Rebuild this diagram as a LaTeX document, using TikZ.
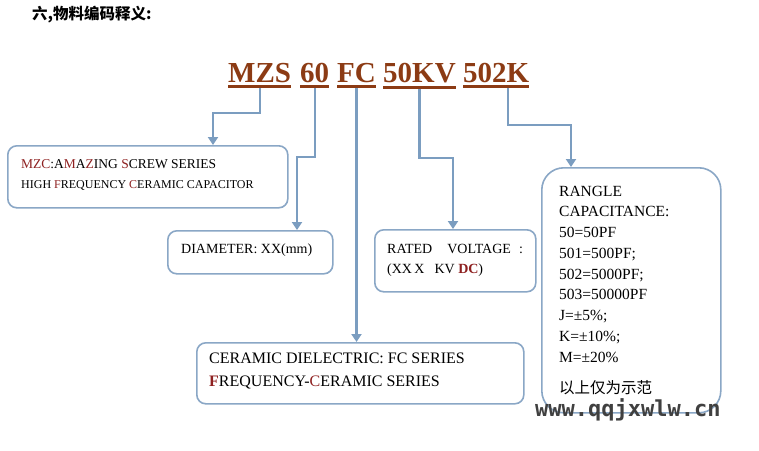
\documentclass[tikz,border=0pt]{standalone}
\usepackage{fontspec}
\setmainfont{Liberation Serif}
\newfontfamily\cjk{Noto Sans CJK SC}
\newfontfamily\wmfont{DejaVu Sans Mono}
\usetikzlibrary{arrows.meta}
\definecolor{codebrown}{HTML}{8C3B14}
\definecolor{mzred}{HTML}{8E2020}
\definecolor{connblue}{HTML}{7B9DC0}
\definecolor{boxblue}{HTML}{8AA7C6}
\newcommand{\hlt}[1]{\textcolor{mzred}{#1}}
\begin{document}
\begin{tikzpicture}[x=1pt,y=-1pt,
    codepart/.style={font=\fontsize{29}{29}\selectfont\bfseries,text=codebrown,
                     inner sep=0pt,anchor=base west},
    uline/.style={draw=codebrown,line width=3pt},
    box/.style={draw=boxblue,line width=1.6pt,rounded corners=9pt,anchor=north west,
                inner sep=0pt},
    txt/.style={font=\fontsize{14}{20}\selectfont,align=left,anchor=base west,inner sep=0pt},
    conn/.style={draw=connblue,line width=2.2pt,-{Triangle[width=10pt,length=8pt]}}]
  \fill[white] (0,0) rectangle (759,450);
  \useasboundingbox (0,0) rectangle (759,450);
  \node[anchor=base west,inner sep=0pt,font=\cjk\bfseries\fontsize{15.5}{15.5}\selectfont]
    (title) at (32,19) {六,物料编码释义:};
  % the code, one part per underline
  \foreach \nm/\x/\t in {pmzs/228/MZS, p60/300/60, pfc/337/FC, pkv/383/50KV, pcap/463/502K}{
    \node[codepart] (\nm) at (\x,82) {\t};
    \draw[uline] ([yshift=-4.5pt]\nm.south west) -- ([yshift=-4.5pt]\nm.south east);
  }
  % boxes
  \node[box,minimum width=280pt,minimum height=62pt] (series) at (7,145) {};
  \node[box,minimum width=165pt,minimum height=43pt] (diameter) at (167,230) {};
  \node[box,minimum width=161pt,minimum height=62pt] (voltage) at (374,229) {};
  \node[box,minimum width=327pt,minimum height=61pt] (dielectric) at (196,342) {};
  \node[box,minimum width=179pt,minimum height=245pt,rounded corners=22pt] (capac) at (541,167) {};
  % texts (multi-line nodes sit on their last baseline)
  \node[txt] (seriestxt) at (21,188)
    {{\fontsize{13.5}{20}\selectfont\hlt{MZC}:A\hlt{M}A\hlt{Z}ING \hlt{S}CREW SERIES}\\
     {\fontsize{12}{20}\selectfont HIGH \hlt{F}REQUENCY \hlt{C}ERAMIC CAPACITOR}};
  \node[txt] (diametertxt) at (181,253) {DIAMETER: XX(mm)};
  \node[txt] (voltagetxt) at (387,273)
    {RATED\hspace{15pt}VOLTAGE\hspace{8pt}:\\(XX\,X\hspace{10pt}KV \textbf{\hlt{DC}})};
  \node[txt,font=\fontsize{16}{22.5}\selectfont] (dielectrictxt) at (209,386)
    {CERAMIC DIELECTRIC: FC SERIES\\\textbf{\hlt{F}}REQUENCY-\hlt{C}ERAMIC SERIES};
  \node[txt,font=\fontsize{15.5}{20.75}\selectfont] (capactxt) at (559,362)
    {RANGLE\\CAPACITANCE:\\50=50PF\\501=500PF;\\502=5000PF;\\503=50000PF\\J=±5\%;\\K=±10\%;\\M=±20\%};
  \node[anchor=base west,inner sep=0pt,font=\cjk\fontsize{15.5}{15.5}\selectfont]
    (capacnote) at (559,393) {以上仅为示范};
  % connectors
  \coordinate (b1) at (213,113);
  \coordinate (b2) at (297,157);
  \coordinate (b4) at (453,158);
  \coordinate (b5) at (571,125);
  \draw[conn] ([yshift=-6pt]pmzs.south) |- (b1) -- (b1 |- series.north);
  \draw[conn] ([yshift=-6pt]p60.south) |- (b2) -- (b2 |- diameter.north);
  \draw[conn] ([yshift=-6pt]pfc.south) -- (pfc.south |- dielectric.north);
  \draw[conn] ([yshift=-6pt]pkv.south) |- (b4) -- (b4 |- voltage.north);
  \draw[conn] ([xshift=11.5pt,yshift=-6pt]pcap.south) |- (b5) -- (b5 |- capac.north);
  \node[anchor=base west,inner sep=0pt,font=\wmfont\bfseries\fontsize{22}{22}\selectfont,
        text=black!75] (wm) at (535,416) {www.qqjxwlw.cn};
\end{tikzpicture}
\end{document}
